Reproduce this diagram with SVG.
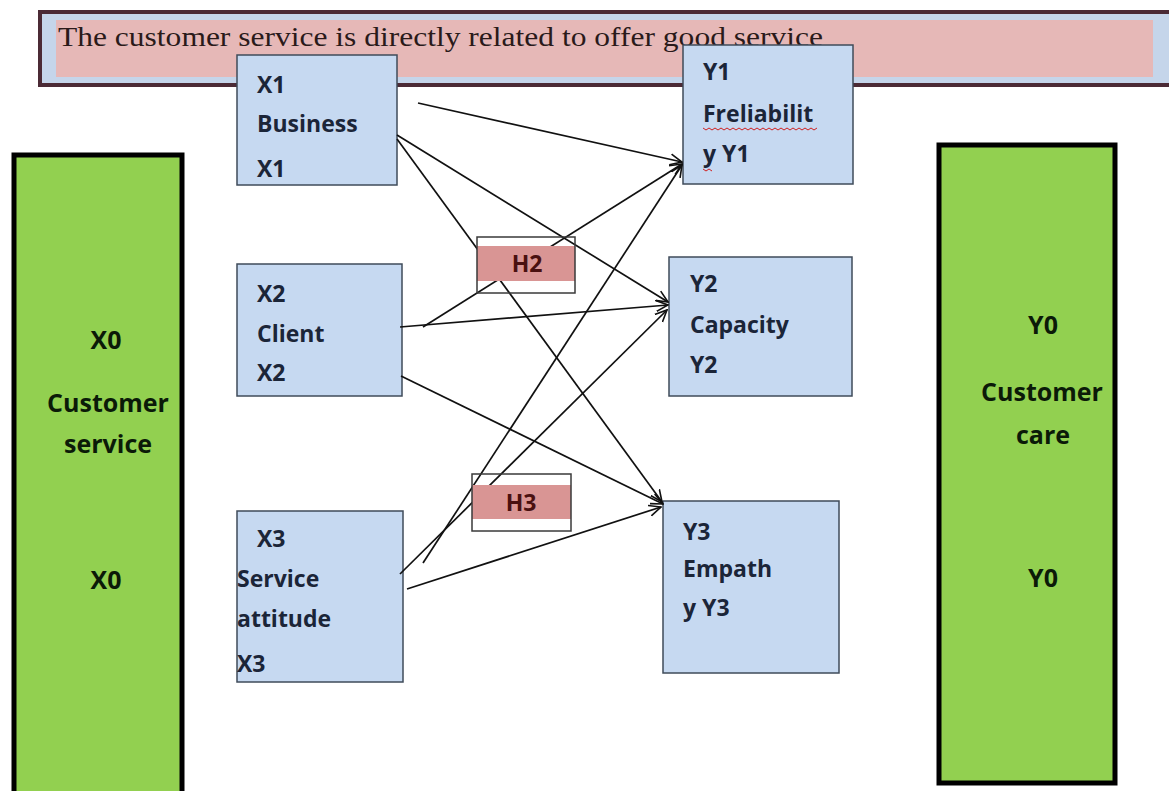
<svg xmlns="http://www.w3.org/2000/svg" width="1169" height="791" viewBox="0 0 1169 791">
<defs>
<marker id="arr" viewBox="0 0 12 12" refX="11" refY="6" markerWidth="13" markerHeight="13" markerUnits="userSpaceOnUse" orient="auto">
<path d="M0,1 L11,6 L0,11" fill="none" stroke="#111" stroke-width="1.5"/>
</marker>
</defs>
<style>
.box{fill:#c6d9f1;stroke:#3f4b5a;stroke-width:1.5}
.bar{fill:#92d050;stroke:#000;stroke-width:5}
.t{font-family:"Open Sans","Noto Sans",sans-serif;font-weight:700;font-size:23px;fill:#1b2538}
.g{font-family:"Open Sans","Noto Sans",sans-serif;font-weight:700;font-size:25px;fill:#0b1a08;text-anchor:middle}
.h{font-family:"Open Sans","Noto Sans",sans-serif;font-weight:700;font-size:23px;fill:#4a1010;text-anchor:middle}
.band{fill:#d99594}
.frame{fill:none;stroke:#3a3a3a;stroke-width:1.5}
.c{stroke:#111;stroke-width:1.7;fill:none;marker-end:url(#arr)}
.wave{fill:none;stroke:#d02020;stroke-width:1}
</style>
<rect width="1169" height="791" fill="#ffffff"/>
<g id="banner">
<rect x="40" y="12" width="1140" height="73" fill="#c5d5ea" stroke="#4b2a35" stroke-width="4"/>
<rect x="56" y="20" width="1097" height="57" fill="#e6b8b7"/>
<text x="58" y="46" font-family="Liberation Serif, serif" font-size="27" fill="#2a1a1a" textLength="765" lengthAdjust="spacingAndGlyphs">The customer service is directly related to offer good service</text>
</g>
<g id="x0">
<rect class="bar" x="14" y="155" width="168" height="660"/>
<text class="g" x="106" y="349">X0</text>
<text class="g" x="108" y="412">Customer</text>
<text class="g" x="108" y="453">service</text>
<text class="g" x="106" y="589">X0</text>
</g>
<g id="y0">
<rect class="bar" x="939" y="145" width="176" height="638"/>
<text class="g" x="1043" y="334">Y0</text>
<text class="g" x="1042" y="401">Customer</text>
<text class="g" x="1043" y="444">care</text>
<text class="g" x="1043" y="587">Y0</text>
</g>
<g id="x1">
<rect class="box" x="237" y="55" width="160" height="130"/>
<text class="t" x="257" y="93">X1</text>
<text class="t" x="257" y="132">Business</text>
<text class="t" x="257" y="177">X1</text>
</g>
<g id="x2">
<rect class="box" x="237" y="264" width="165" height="132"/>
<text class="t" x="257" y="302">X2</text>
<text class="t" x="257" y="342">Client</text>
<text class="t" x="257" y="381">X2</text>
</g>
<g id="x3">
<rect class="box" x="237" y="511" width="166" height="171"/>
<text class="t" x="257" y="547">X3</text>
<text class="t" x="237" y="587">Service</text>
<text class="t" x="237" y="627">attitude</text>
<text class="t" x="237" y="672">X3</text>
</g>
<g id="y1">
<rect class="box" x="683" y="45" width="170" height="139"/>
<text class="t" x="703" y="80">Y1</text>
<text class="t" x="703" y="122">Freliabilit</text>
<text class="t" x="703" y="162">y Y1</text>
<path class="wave" d="M703,128 l3,2 l3,-2 l3,2 l3,-2 l3,2 l3,-2 l3,2 l3,-2 l3,2 l3,-2 l3,2 l3,-2 l3,2 l3,-2 l3,2 l3,-2 l3,2 l3,-2 l3,2 l3,-2 l3,2 l3,-2 l3,2 l3,-2 l3,2 l3,-2 l3,2 l3,-2 l3,2 l3,-2 l3,2 l3,-2 l3,2 l3,-2 l3,2 l3,-2 l3,2 l3,-2"/>
<path class="wave" d="M703,169 l3,2 l3,-2 l3,2"/>
</g>
<g id="y2">
<rect class="box" x="669" y="257" width="183" height="139"/>
<text class="t" x="690" y="292">Y2</text>
<text class="t" x="690" y="333">Capacity</text>
<text class="t" x="690" y="373">Y2</text>
</g>
<g id="y3">
<rect class="box" x="663" y="501" width="176" height="172"/>
<text class="t" x="683" y="540">Y3</text>
<text class="t" x="683" y="577">Empath</text>
<text class="t" x="683" y="616">y Y3</text>
</g>
<g id="connectors">
<line class="c" x1="418" y1="103" x2="682" y2="162"/>
<line class="c" x1="397" y1="135" x2="668" y2="302"/>
<line class="c" x1="397" y1="139" x2="662" y2="502"/>
<line class="c" x1="400" y1="327" x2="668" y2="305"/>
<line class="c" x1="423" y1="327" x2="682" y2="164"/>
<line class="c" x1="401" y1="376" x2="663" y2="504"/>
<line class="c" x1="423" y1="563" x2="682" y2="165"/>
<line class="c" x1="400" y1="574" x2="667" y2="310"/>
<line class="c" x1="407" y1="589" x2="661" y2="507"/>
</g>
<g id="h2">
<rect class="band" x="477" y="246" width="98" height="35"/>
<rect class="frame" x="477" y="237" width="98" height="56"/>
<text class="h" x="527" y="272">H2</text>
</g>
<g id="h3">
<rect class="band" x="472" y="485" width="99" height="34"/>
<rect class="frame" x="472" y="474" width="99" height="57"/>
<text class="h" x="521" y="511">H3</text>
</g>
</svg>
